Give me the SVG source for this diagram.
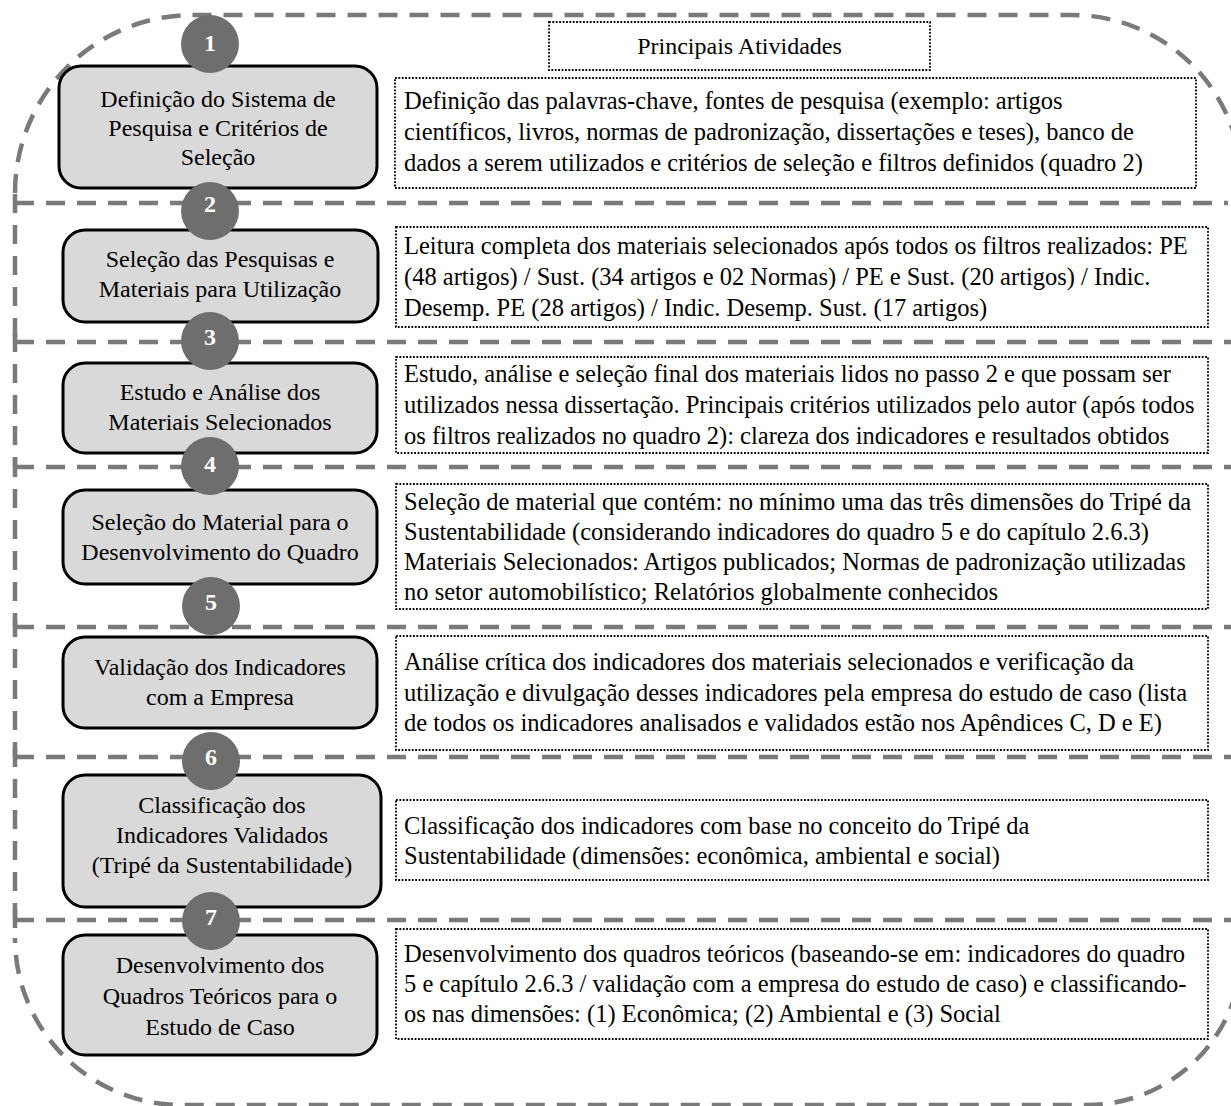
<svg xmlns="http://www.w3.org/2000/svg" width="1231" height="1106" viewBox="0 0 1231 1106">
<defs>
<style>
.dash{fill:none;stroke:#7a7a7a;stroke-width:4.5;stroke-dasharray:19 12}
.node{fill:#d9d9d9;stroke:#000;stroke-width:3}
.act{fill:#fff;stroke:#000;stroke-width:1.8;stroke-dasharray:1.8 1.6}
.num{fill:#6e6e6e}
.numt{font-family:"Liberation Serif",serif;font-weight:bold;font-size:24px;fill:#fff;text-anchor:middle}
.lbl{font-family:"Liberation Serif",serif;font-size:24px;fill:#000;text-anchor:middle}
.txt{font-family:"Liberation Serif",serif;font-size:24.5px;fill:#000}
</style>
</defs>
<rect width="1231" height="1106" fill="#fff"/>
<g id="connectors">
<path class="dash" d="M15,193 A178,178 0 0 1 193,15 H1072 A170,170 0 0 1 1242,185 V950 A155,155 0 0 1 1087,1105 H182 A167,167 0 0 1 15,938"/>
<path class="dash" d="M15,194 V342"/>
<path class="dash" d="M15,333 V467"/>
<path class="dash" d="M15,458 V627"/>
<path class="dash" d="M15,618 V757"/>
<path class="dash" d="M15,748 V918"/>
<path class="dash" d="M15,909 V940"/>
<path class="dash" d="M15,203 H1228"/>
<path class="dash" d="M15,342 H1231"/>
<path class="dash" d="M15,467 H1231"/>
<path class="dash" d="M15,627 H1231"/>
<path class="dash" d="M15,757 H1231"/>
<path class="dash" d="M15,920 H1231"/>
</g>
<g id="header">
<rect class="act" x="549" y="22" width="381" height="48"/>
<text class="txt" x="739.5" y="54" text-anchor="middle" style="font-size:24px">Principais Atividades</text>
</g>
<g id="step1">
<rect class="node" x="59" y="66" width="318" height="122" rx="22"/>
<text class="lbl" x="218" y="107">Definição do Sistema de</text>
<text class="lbl" x="218" y="136">Pesquisa e Critérios de</text>
<text class="lbl" x="218" y="165">Seleção</text>
<circle class="num" cx="210" cy="44" r="29"/>
<text class="numt" x="210" y="51">1</text>
</g>
<g id="activity1">
<rect class="act" x="395" y="78" width="801" height="110"/>
<text class="txt" x="404" y="109">Definição das palavras-chave, fontes de pesquisa (exemplo: artigos</text>
<text class="txt" x="404" y="140">científicos, livros, normas de padronização, dissertações e teses), banco de</text>
<text class="txt" x="404" y="171">dados a serem utilizados e critérios de seleção e filtros definidos (quadro 2)</text>
</g>
<g id="step2">
<rect class="node" x="63" y="230" width="315" height="92" rx="22"/>
<text class="lbl" x="220" y="267">Seleção das Pesquisas e</text>
<text class="lbl" x="220" y="297">Materiais para Utilização</text>
<circle class="num" cx="210" cy="211" r="29"/>
<text class="numt" x="210" y="212">2</text>
</g>
<g id="activity2">
<rect class="act" x="396" y="227" width="812" height="100"/>
<text class="txt" x="404" y="254">Leitura completa dos materiais selecionados após todos os filtros realizados: PE</text>
<text class="txt" x="404" y="285">(48 artigos) / Sust. (34 artigos e 02 Normas) / PE e Sust. (20 artigos) / Indic.</text>
<text class="txt" x="404" y="316">Desemp. PE (28 artigos) / Indic. Desemp. Sust. (17 artigos)</text>
</g>
<g id="step3">
<rect class="node" x="63" y="363" width="314" height="90" rx="22"/>
<text class="lbl" x="220" y="400">Estudo e Análise dos</text>
<text class="lbl" x="220" y="430">Materiais Selecionados</text>
<circle class="num" cx="210" cy="341" r="29"/>
<text class="numt" x="210" y="345">3</text>
</g>
<g id="activity3">
<rect class="act" x="396" y="357" width="812" height="96"/>
<text class="txt" x="404" y="382">Estudo, análise e seleção final dos materiais lidos no passo 2 e que possam ser</text>
<text class="txt" x="404" y="413">utilizados nessa dissertação. Principais critérios utilizados pelo autor (após todos</text>
<text class="txt" x="404" y="444">os filtros realizados no quadro 2): clareza dos indicadores e resultados obtidos</text>
</g>
<g id="step4">
<rect class="node" x="63" y="490" width="314" height="94" rx="22"/>
<text class="lbl" x="220" y="530">Seleção do Material para o</text>
<text class="lbl" x="220" y="560">Desenvolvimento do Quadro</text>
<circle class="num" cx="210" cy="466" r="29"/>
<text class="numt" x="210" y="472">4</text>
</g>
<g id="activity4">
<rect class="act" x="396" y="484" width="812" height="125"/>
<text class="txt" x="404" y="510">Seleção de material que contém: no mínimo uma das três dimensões do Tripé da</text>
<text class="txt" x="404" y="540">Sustentabilidade (considerando indicadores do quadro 5 e do capítulo 2.6.3)</text>
<text class="txt" x="404" y="570">Materiais Selecionados: Artigos publicados; Normas de padronização utilizadas</text>
<text class="txt" x="404" y="600">no setor automobilístico; Relatórios globalmente conhecidos</text>
</g>
<g id="step5">
<rect class="node" x="63" y="637" width="314" height="91" rx="22"/>
<text class="lbl" x="220" y="675">Validação dos Indicadores</text>
<text class="lbl" x="220" y="705">com a Empresa</text>
<circle class="num" cx="211" cy="606" r="29"/>
<text class="numt" x="211" y="610">5</text>
</g>
<g id="activity5">
<rect class="act" x="396" y="636" width="812" height="114"/>
<text class="txt" x="404" y="670">Análise crítica dos indicadores dos materiais selecionados e verificação da</text>
<text class="txt" x="404" y="701">utilização e divulgação desses indicadores pela empresa do estudo de caso (lista</text>
<text class="txt" x="404" y="731">de todos os indicadores analisados e validados estão nos Apêndices C, D e E)</text>
</g>
<g id="step6">
<rect class="node" x="63" y="775" width="318" height="132" rx="22"/>
<text class="lbl" x="222" y="813">Classificação dos</text>
<text class="lbl" x="222" y="843">Indicadores Validados</text>
<text class="lbl" x="222" y="873">(Tripé da Sustentabilidade)</text>
<circle class="num" cx="211" cy="761" r="29"/>
<text class="numt" x="211" y="765">6</text>
</g>
<g id="activity6">
<rect class="act" x="396" y="800" width="812" height="80"/>
<text class="txt" x="404" y="834">Classificação dos indicadores com base no conceito do Tripé da</text>
<text class="txt" x="404" y="864">Sustentabilidade (dimensões: econômica, ambiental e social)</text>
</g>
<g id="step7">
<rect class="node" x="63" y="935" width="314" height="120" rx="22"/>
<text class="lbl" x="220" y="973">Desenvolvimento dos</text>
<text class="lbl" x="220" y="1004">Quadros Teóricos para o</text>
<text class="lbl" x="220" y="1035">Estudo de Caso</text>
<circle class="num" cx="211" cy="921" r="29"/>
<text class="numt" x="211" y="925">7</text>
</g>
<g id="activity7">
<rect class="act" x="396" y="929" width="812" height="110"/>
<text class="txt" x="404" y="962">Desenvolvimento dos quadros teóricos (baseando-se em: indicadores do quadro</text>
<text class="txt" x="404" y="992">5 e capítulo 2.6.3 / validação com a empresa do estudo de caso) e classificando-</text>
<text class="txt" x="404" y="1022">os nas dimensões: (1) Econômica; (2) Ambiental e (3) Social</text>
</g>
</svg>
